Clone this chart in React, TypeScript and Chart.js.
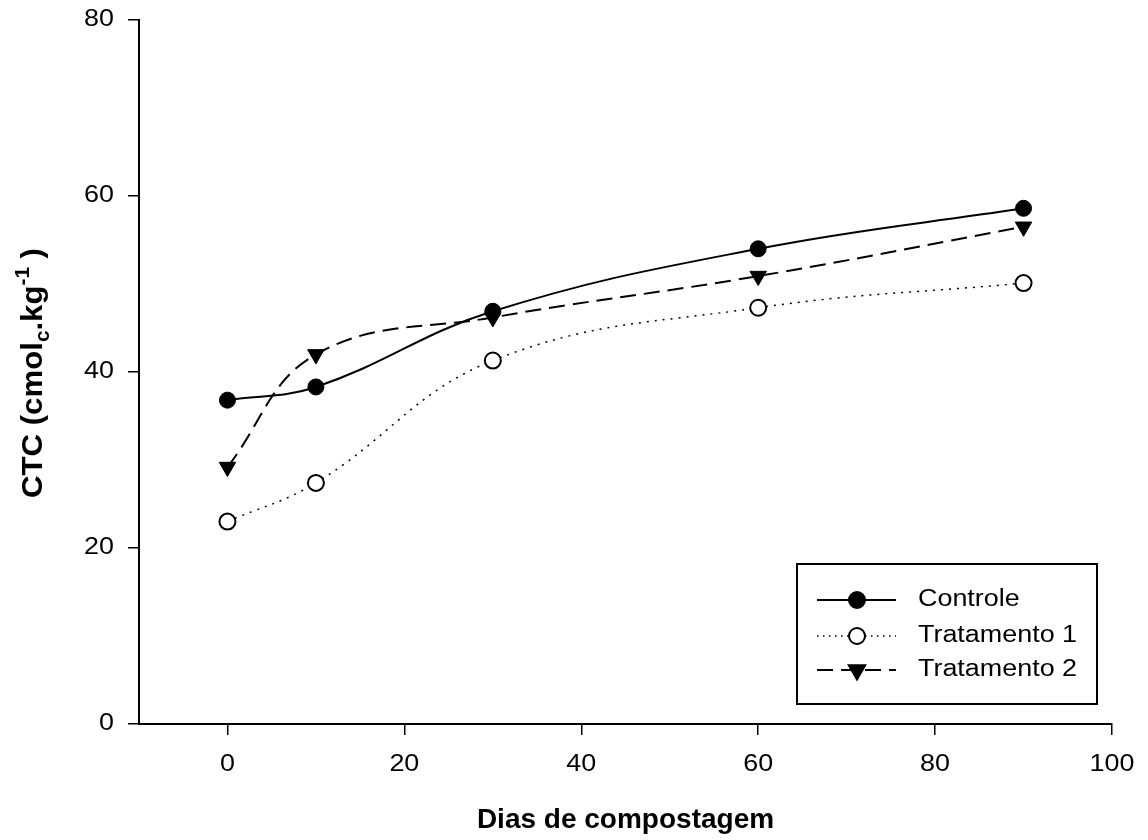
import React, { useEffect, useRef } from 'react';
import { Chart, registerables } from 'chart.js';

Chart.register(...registerables);

// ---- data ----
const days = [0, 10, 30, 60, 90];
const controle = [36.8, 38.3, 46.9, 54.0, 58.6];
const tratamento1 = [23.0, 27.4, 41.3, 47.3, 50.1];
const tratamento2 = [29.2, 42.0, 46.2, 50.9, 56.5];
const seriesNames = ['Controle', 'Tratamento 1', 'Tratamento 2'];
const xTicks = [0, 20, 40, 60, 80, 100];
const yTicks = [0, 20, 40, 60, 80];
const xTitle = 'Dias de compostagem';
const xRange = [-10, 100];
const yRange = [0, 80];

const FONT = "'Liberation Sans', Arial, sans-serif";
const STRETCH = 1.17;

const toPoints = (ys: number[]) => days.map((d, i) => ({ x: d, y: ys[i] }));

const drawMarker = (ctx: CanvasRenderingContext2D, style: string, x: number, y: number, r: number, fill: string) => {
  ctx.save();
  ctx.setLineDash([]);
  ctx.beginPath();
  if (style === 'triangle') {
    ctx.moveTo(x, y + r);
    ctx.lineTo(x - r * Math.sin(Math.PI / 3), y - r / 2);
    ctx.lineTo(x + r * Math.sin(Math.PI / 3), y - r / 2);
    ctx.closePath();
  } else {
    ctx.arc(x, y, r, 0, Math.PI * 2);
  }
  ctx.fillStyle = fill;
  ctx.fill();
  ctx.lineWidth = 2;
  ctx.strokeStyle = '#000';
  ctx.stroke();
  ctx.restore();
};

const stretchedText = (
  ctx: CanvasRenderingContext2D,
  text: string,
  x: number,
  y: number,
  font: string,
  align: CanvasTextAlign,
  sx: number,
) => {
  ctx.save();
  ctx.font = font;
  ctx.fillStyle = '#000';
  ctx.textAlign = align;
  ctx.textBaseline = 'middle';
  ctx.translate(x, y);
  ctx.scale(sx, 1);
  ctx.fillText(text, 0, 0);
  ctx.restore();
};

const decorPlugin = {
  id: 'decor',
  afterDraw(chart: any) {
    const ctx: CanvasRenderingContext2D = chart.ctx;
    const xs = chart.scales.x;
    const ys = chart.scales.y;

    // ---- tick labels ----
    xTicks.forEach((v) => {
      stretchedText(ctx, String(v), xs.getPixelForValue(v), 765, `23px ${FONT}`, 'center', STRETCH);
    });
    yTicks.forEach((v) => {
      stretchedText(ctx, String(v), 114, ys.getPixelForValue(v), `23px ${FONT}`, 'right', STRETCH);
    });

    // ---- x axis title ----
    stretchedText(ctx, xTitle, (chart.chartArea.left + chart.chartArea.right) / 2, 820, `bold 28px ${FONT}`, 'center', 1.0);

    // ---- y axis title with subscript / superscript ----
    const parts = [
      { t: 'CTC (cmol', s: 30, dy: 0 },
      { t: 'c', s: 20, dy: 7 },
      { t: '.kg', s: 30, dy: 0 },
      { t: '-1', s: 20, dy: -13 },
      { t: ' )', s: 30, dy: 0 },
    ];
    ctx.save();
    let total = 0;
    parts.forEach((p) => {
      ctx.font = `bold ${p.s}px ${FONT}`;
      total += ctx.measureText(p.t).width;
    });
    const targetLen = 250;
    ctx.translate(42, 373);
    ctx.rotate(-Math.PI / 2);
    ctx.scale(targetLen / total, 1);
    ctx.fillStyle = '#000';
    ctx.textBaseline = 'alphabetic';
    ctx.textAlign = 'left';
    let cx = -total / 2;
    parts.forEach((p) => {
      ctx.font = `bold ${p.s}px ${FONT}`;
      ctx.fillText(p.t, cx, p.dy);
      cx += ctx.measureText(p.t).width;
    });
    ctx.restore();

    // ---- legend ----
    ctx.save();
    ctx.lineWidth = 2;
    ctx.strokeStyle = '#000';
    ctx.setLineDash([]);
    ctx.strokeRect(797, 564, 300, 140);
    const rows = [600, 636, 670];
    chart.data.datasets.forEach((ds: any, i: number) => {
      const y = rows[i];
      ctx.save();
      ctx.beginPath();
      ctx.setLineDash(ds.legendDash || []);
      ctx.lineWidth = ds.borderWidth;
      ctx.strokeStyle = '#000';
      ctx.moveTo(817, y);
      ctx.lineTo(896, y);
      ctx.stroke();
      ctx.restore();
      drawMarker(ctx, ds.pointStyle, 857, y, ds.pointStyle === 'triangle' ? 9.5 : 8, ds.pointBackgroundColor);
      stretchedText(ctx, seriesNames[i], 918, y, `23px ${FONT}`, 'left', STRETCH);
    });
    ctx.restore();
  },
};

export default function App() {
  const ref = useRef<HTMLCanvasElement>(null);
  useEffect(() => {
    if (!ref.current) return;
    const chart = new Chart(ref.current, {
      type: 'line',
      data: {
        datasets: [
          {
            label: seriesNames[0],
            data: toPoints(controle),
            borderColor: '#000',
            borderWidth: 2,
            tension: 0.4,
            pointStyle: 'circle',
            pointRadius: 8,
            pointBackgroundColor: '#000',
            pointBorderColor: '#000',
            pointBorderWidth: 1,
            legendDash: [],
          },
          {
            label: seriesNames[1],
            data: toPoints(tratamento1),
            borderColor: '#000',
            borderWidth: 1.5,
            borderDash: [2, 6],
            tension: 0.4,
            pointStyle: 'circle',
            pointRadius: 8,
            pointBackgroundColor: '#fff',
            pointBorderColor: '#000',
            pointBorderWidth: 2,
            legendDash: [1.5, 4.5],
          },
          {
            label: seriesNames[2],
            data: toPoints(tratamento2),
            borderColor: '#000',
            borderWidth: 2,
            borderDash: [16, 8],
            tension: 0.4,
            pointStyle: 'triangle',
            pointRotation: 180,
            pointRadius: 9.5,
            pointBackgroundColor: '#000',
            pointBorderColor: '#000',
            pointBorderWidth: 1,
            legendDash: [16, 8],
          },
        ] as any,
      },
      options: {
        responsive: false,
        animation: false,
        events: [],
        layout: { padding: { left: 0, top: 20, right: 36, bottom: 0 } },
        plugins: { legend: { display: false }, tooltip: { enabled: false } },
        scales: {
          x: {
            type: 'linear',
            min: xRange[0],
            max: xRange[1],
            afterFit: (s: any) => { s.height = 116; },
            afterBuildTicks: (s: any) => { s.ticks = xTicks.map((v) => ({ value: v })); },
            ticks: { display: false, stepSize: 20 },
            grid: { drawOnChartArea: false, drawTicks: true, tickLength: 11, color: '#000', lineWidth: 1.5 },
            border: { display: true, color: '#000', width: 2 },
          },
          y: {
            type: 'linear',
            min: yRange[0],
            max: yRange[1],
            afterFit: (s: any) => { s.width = 139; },
            afterBuildTicks: (s: any) => { s.ticks = yTicks.map((v) => ({ value: v })); },
            ticks: { display: false, stepSize: 20 },
            grid: { drawOnChartArea: false, drawTicks: true, tickLength: 11, color: '#000', lineWidth: 1.5 },
            border: { display: true, color: '#000', width: 2 },
          },
        },
      } as any,
      plugins: [decorPlugin],
    });
    return () => chart.destroy();
  }, []);
  return (
    <div style={{ position: 'fixed', left: 0, top: 0, width: 1148, height: 840, background: '#fff' }}>
      <canvas ref={ref} width={1148} height={840} style={{ width: 1148, height: 840, display: 'block' }} />
    </div>
  );
}
